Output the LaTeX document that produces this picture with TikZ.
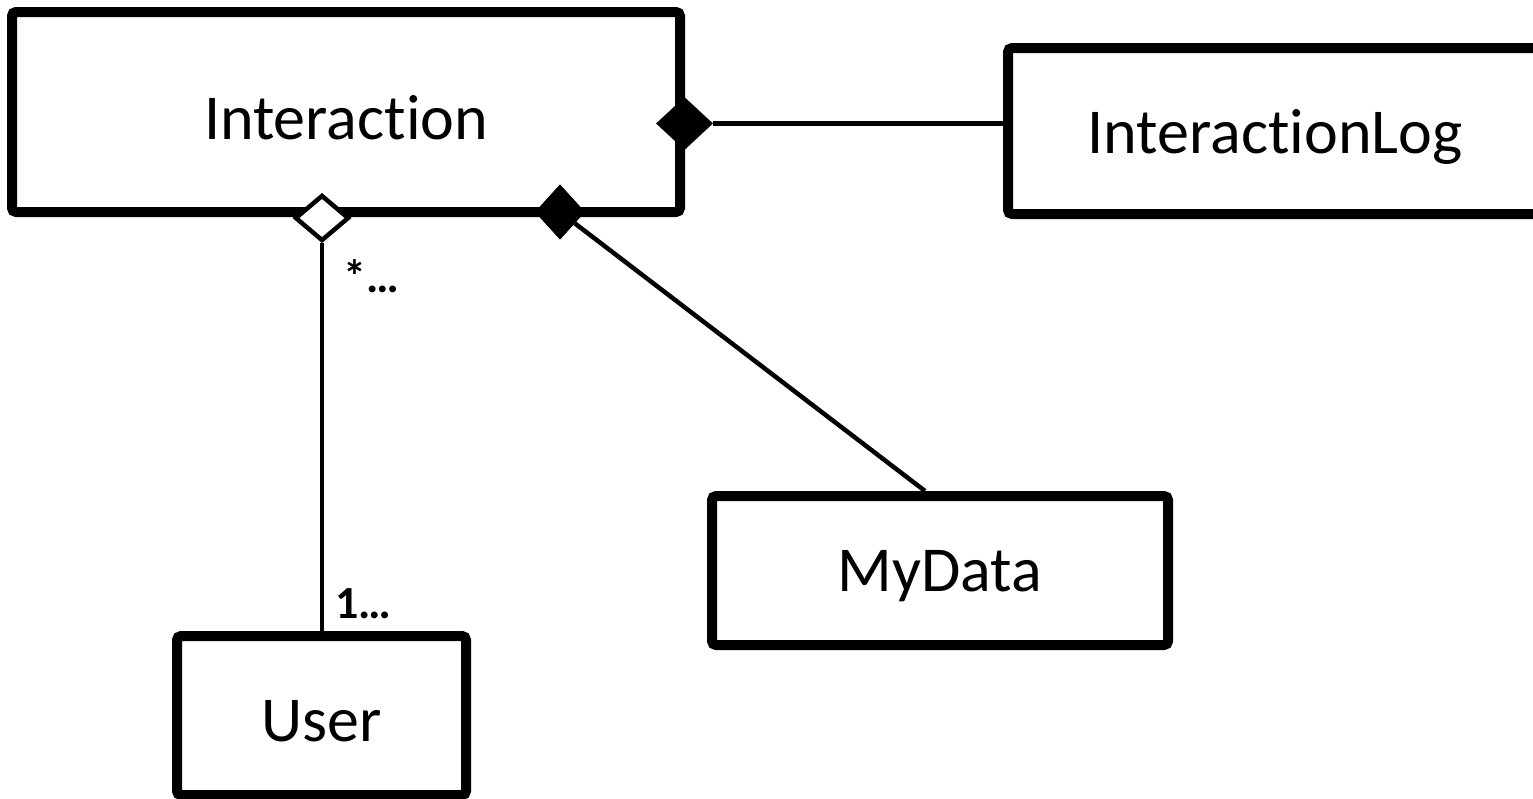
\documentclass[tikz,border=0pt]{standalone}
\usepackage{fontspec}
\setmainfont{Carlito}[Ligatures=NoCommon]
\usetikzlibrary{shapes.geometric,calc}
% class names sit slightly below the box centre
\newcommand\classname[1]{\raisebox{-6pt}[\height][\depth]{#1}}
\begin{document}
\begin{tikzpicture}[x=1pt,y=-1pt,
  classbox/.style={draw, line width=10pt, rounded corners=4pt, inner sep=0pt,
    font=\fontsize{64}{76}\selectfont},
  link/.style={line width=4.5pt},
  compo/.style={diamond, fill=black, inner sep=0pt},
  aggr/.style={diamond, draw, fill=white, line width=4.5pt, inner sep=0pt},
  mult/.style={font=\bfseries\fontsize{46}{54}\selectfont, inner sep=0pt, anchor=base west}]
  \useasboundingbox (0,0) rectangle (1533,798);

  % classes
  \node[classbox, minimum width=668pt, minimum height=200pt] (inter) at (346,112) {\classname{Interaction}};
  \node[classbox, minimum width=534pt, minimum height=166pt] (log) at (1275,131) {\classname{InteractionLog}};
  \node[classbox, minimum width=456pt, minimum height=149pt] (mydata) at (940,570.5) {\classname{MyData}};
  \node[classbox, minimum width=289pt, minimum height=159pt] (user) at (321.5,715.5) {\classname{User}};

  % association ends
  \node[compo, minimum width=57pt, minimum height=53pt] (clog) at (684.5,123.5) {};
  \node[compo, minimum width=50pt, minimum height=55pt] (cdata) at (560,212) {};
  \node[aggr, minimum width=54pt, minimum height=46pt] (auser) at (322,218) {};

  \coordinate (dataend) at ($(mydata.north)+(-15,0)$);

  % connectors
  \draw[link] (clog.east) -- (clog.east -| log.west);
  \draw[link] (cdata) -- (dataend);
  \draw[link] (auser.south) -- (auser.south |- user.north);

  % redraw the ends on top of the lines
  \node[compo, minimum width=50pt, minimum height=55pt] at (cdata) {};

  % multiplicities
  \node[mult] (mtop) at (343,292) {*…};
  \node[mult] (mbot) at (335,618) {1…};
\end{tikzpicture}
\end{document}
